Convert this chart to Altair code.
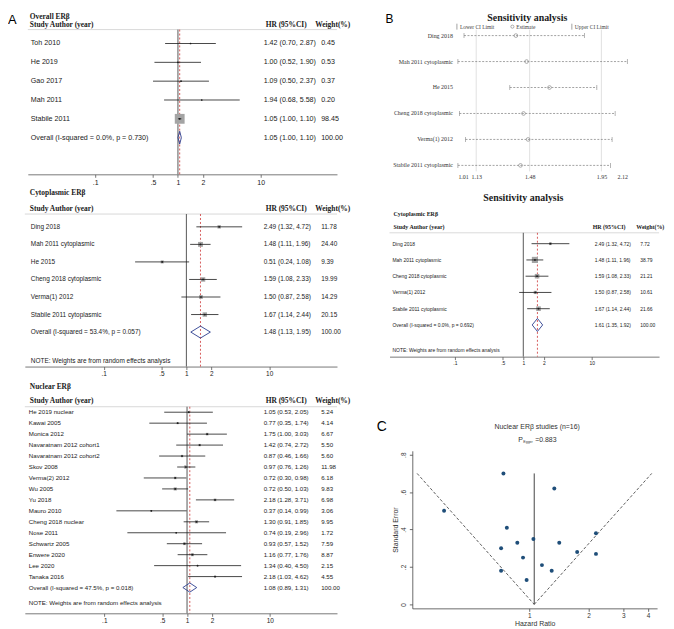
import altair as alt
import pandas as pd

SANS = "Liberation Sans"
SERIF = "Liberation Serif"
INK = "#1a1a1a"
GRID = "#c8c8c8"
NAVY = "#2b3d8f"
RED = "#cc3333"
DOT = "#1f4e79"

# ---------------- data ----------------
ov_names = ["Toh 2010", "He 2019", "Gao 2017", "Mah 2011", "Stabile 2011"]
ov_hr = [1.42, 1.00, 1.09, 1.94, 1.05]
ov_lo = [0.70, 0.52, 0.50, 0.68, 1.00]
ov_hi = [2.87, 1.90, 2.37, 5.58, 1.10]
ov_w = [0.45, 0.53, 0.37, 0.20, 98.45]
ov_pool = [1.05, 1.00, 1.10]
ov_label = "Overall  (I-squared = 0.0%, p = 0.730)"

cy_names = ["Ding 2018", "Mah 2011 cytoplasmic", "He 2015", "Cheng 2018 cytoplasmic",
            "Verma(1) 2012", "Stabile 2011 cytoplasmic"]
cy_hr = [2.49, 1.48, 0.51, 1.59, 1.50, 1.67]
cy_lo = [1.32, 1.11, 0.24, 1.08, 0.87, 1.14]
cy_hi = [4.72, 1.96, 1.08, 2.33, 2.58, 2.44]
cy_w = [11.78, 24.40, 9.39, 19.99, 14.29, 20.15]
cy_pool = [1.48, 1.13, 1.95]
cy_label = "Overall  (I-squared = 53.4%, p = 0.057)"

nu_names = ["He 2019 nuclear", "Kawai 2005", "Monica 2012", "Navaratnam 2012 cohort1",
            "Navaratnam 2012 cohort2", "Skov 2008", "Verma(2) 2012", "Wu 2005", "Yu 2018",
            "Mauro 2010", "Cheng 2018 nuclear", "Nose 2011", "Schwartz  2005", "Enwere 2020",
            "Lee 2020", "Tanaka 2016"]
nu_hr = [1.05, 0.77, 1.75, 1.42, 0.87, 0.97, 0.72, 0.72, 2.18, 0.37, 1.30, 0.74, 0.93, 1.16, 1.34, 2.18]
nu_lo = [0.53, 0.35, 1.00, 0.74, 0.46, 0.76, 0.30, 0.50, 1.28, 0.14, 0.91, 0.19, 0.57, 0.77, 0.40, 1.03]
nu_hi = [2.05, 1.74, 3.03, 2.72, 1.66, 1.26, 0.98, 1.03, 3.71, 0.99, 1.85, 2.96, 1.52, 1.76, 4.50, 4.62]
nu_w = [5.24, 4.14, 6.67, 5.50, 5.60, 11.98, 6.18, 9.83, 6.98, 3.06, 9.95, 1.72, 7.59, 8.87, 2.15, 4.55]
nu_pool = [1.08, 0.89, 1.31]
nu_label = "Overall  (I-squared = 47.5%, p = 0.018)"

sv_names = ["Ding 2018", "Mah 2011 cytoplasmic", "Cheng 2018 cytoplasmic",
            "Verma(1) 2012", "Stabile 2011 cytoplasmic"]
sv_hr = [2.49, 1.48, 1.59, 1.50, 1.67]
sv_lo = [1.32, 1.11, 1.08, 0.87, 1.14]
sv_hi = [4.72, 1.96, 2.33, 2.58, 2.44]
sv_w = [7.72, 38.79, 21.21, 10.61, 21.66]
sv_pool = [1.61, 1.35, 1.92]
sv_label = "Overall  (I-squared = 0.0%, p = 0.692)"

# leave-one-out sensitivity (omitted study)
lo_names = ["Ding 2018", "Mah 2011 cytoplasmic", "He 2015", "Cheng 2018 cytoplasmic",
            "Verma(1) 2012", "Stabile 2011 cytoplasmic"]
lo_est = [1.39, 1.46, 1.61, 1.44, 1.47, 1.42]
lo_low = [1.05, 1.01, 1.35, 1.02, 1.06, 1.01]
lo_upp = [1.84, 2.12, 1.92, 2.04, 2.02, 2.01]
lo_ticks = [1.01, 1.13, 1.48, 1.95, 2.12]
lo_grid = [1.13, 1.48, 1.95]

# funnel plot (nuclear studies)
fn_se = [0.35, 0.41, 0.28, 0.33, 0.33, 0.13, 0.30, 0.18, 0.27, 0.50, 0.18, 0.70, 0.25, 0.21, 0.62, 0.38]
fn_center = 1.06
fn_left = 0.27
fn_right = 4.18
fn_top = 0.70

TICKS = [0.1, 0.5, 1, 2, 10]


def forest(p):
    n = len(p["names"])
    xs = alt.Scale(type="log", domain=p["xdom"], range=p["xrng"], nice=False)
    ys = alt.Scale(domain=p["ydom"], range=p["yrng"], nice=False, zero=False)
    xaxis = alt.Axis(values=TICKS, title=None, grid=False,
                     labelExpr="datum.value < 1 ? replace(format(datum.value, '.1f'), '0.', '.') : format(datum.value, 'd')",
                     domainColor="#555", tickColor="#555", domainWidth=0.8, tickWidth=0.8,
                     tickSize=3, labelPadding=1, labelFont=SANS, labelFontSize=p["tick_fs"],
                     labelColor=INK, offset=p.get("axis_off", 0))
    bottom = p["height"] + p.get("axis_off", 0)

    def X(f):
        return alt.X(f, scale=xs, axis=xaxis)

    def Y(f):
        return alt.Y(f, scale=ys, axis=None)

    rows = pd.DataFrame({"r": list(range(1, n + 1)), "hr": p["hr"], "lo": p["lo"],
                         "hi": p["hi"], "w": p["w"]})
    est, plo, phi = p["pool"]
    trows = pd.DataFrame({
        "r": list(range(1, n + 2)),
        "name": p["names"] + [p["label"]],
        "hrt": [f"{a:.2f} ({b:.2f}, {c:.2f})" for a, b, c in zip(p["hr"] + [est], p["lo"] + [plo], p["hi"] + [phi])],
        "wt": [f"{w:.2f}" for w in p["w"]] + ["100.00"],
    })
    R = n + 1
    h = p["dh"]
    dia = pd.DataFrame({"o": [0, 1, 2, 3, 4], "x": [plo, est, phi, est, plo],
                        "y": [R, R - h, R, R + h, R]})

    layers = []
    layers.append(alt.Chart(pd.DataFrame({"r": [p["hline"]]})).mark_rule(color=GRID, strokeWidth=0.7)
                  .encode(y=Y("r:Q"), x=alt.value(p["xrng"][0]), x2=alt.value(p["xrng"][1])))
    layers.append(alt.Chart(pd.DataFrame({"x": [1.0], "r": [p["hline"]]})).mark_rule(color="#444", strokeWidth=0.9)
                  .encode(x=X("x:Q"), y=Y("r:Q"), y2=alt.value(bottom)))
    layers.append(alt.Chart(pd.DataFrame({"x": [est], "r": [p["hline"]]}))
                  .mark_rule(color=RED, strokeWidth=0.8, strokeDash=[2, 2])
                  .encode(x=X("x:Q"), y=Y("r:Q"), y2=alt.value(bottom)))
    layers.append(alt.Chart(rows).mark_square(color="#a4a4a4", opacity=1)
                  .encode(x=X("hr:Q"), y=Y("r:Q"), size=alt.Size("w:Q", scale=None)))
    layers.append(alt.Chart(rows).mark_rule(color=INK, strokeWidth=0.8)
                  .encode(x=X("lo:Q"), x2="hi:Q", y=Y("r:Q")))
    layers.append(alt.Chart(rows).mark_circle(color=INK, size=3, opacity=1)
                  .encode(x=X("hr:Q"), y=Y("r:Q")))
    layers.append(alt.Chart(dia).mark_line(color=NAVY, strokeWidth=0.9)
                  .encode(x=X("x:Q"), y=Y("y:Q"), order="o:Q"))
    for col, xp in (("name", p["name_x"]), ("hrt", p["hr_x"]), ("wt", p["w_x"])):
        layers.append(alt.Chart(trows).mark_text(align="left", baseline="middle", font=SANS,
                                                 fontSize=p["fs"], color=INK)
                      .encode(x=alt.value(xp), y=Y("r:Q"), text=f"{col}:N"))
    head = pd.DataFrame({"r": [0, 0, 0, p["title_r"]],
                         "t": ["Study Author (year)", "HR (95%CI)", "Weight(%)", p["title"]],
                         "k": ["a", "b", "c", "d"]})
    for k, xp in (("a", p["title_x"]), ("b", p["hhr_x"]), ("c", p["hw_x"]), ("d", p["title_x"])):
        layers.append(alt.Chart(head[head.k == k]).mark_text(align="left", baseline="middle", font=SERIF,
                                                              fontSize=p["hfs"], fontWeight="bold", color=INK)
                      .encode(x=alt.value(xp), y=Y("r:Q"), text="t:N"))
    if p.get("note_r") is not None:
        layers.append(alt.Chart(pd.DataFrame({"r": [p["note_r"]],
                                              "t": ["NOTE: Weights are from random effects analysis"]}))
                      .mark_text(align="left", baseline="middle", font=SANS, fontSize=p["fs"], color=INK)
                      .encode(x=alt.value(p["name_x"]), y=Y("r:Q"), text="t:N"))
    for ex in p.get("extras", []):
        layers.append(ex)
    return alt.layer(*layers).properties(width=p["width"], height=p["height"])


def letter(t, x, y, fs=12):
    return alt.Chart(pd.DataFrame({"t": [t]})).mark_text(
        align="left", baseline="top", font=SANS, fontSize=fs, color="#000"
    ).encode(x=alt.value(x), y=alt.value(y), text="t:N")


H1, H2, H3 = 165, 194, 249
W = 332

A1 = forest(dict(names=ov_names, hr=ov_hr, lo=ov_lo, hi=ov_hi, w=ov_w, pool=ov_pool, label=ov_label,
                 title="Overall ERβ", width=W, height=H1, xdom=[0.01534, 83.6], xrng=[20, 332],
                 ydom=[0, 6], yrng=[14, 128], hline=0.26, title_r=-0.43, note_r=None, dh=0.34,
                 name_x=23, hr_x=258, w_x=316, hhr_x=260, hw_x=310, title_x=22,
                 fs=7.2, hfs=7.5, tick_fs=7, extras=[letter("A", 0, 3, 13)]))

A2 = forest(dict(names=cy_names, hr=cy_hr, lo=cy_lo, hi=cy_hi, w=cy_w, pool=cy_pool, label=cy_label,
                 title="Cytoplasmic ERβ", width=W, height=H2, xdom=[0.01116, 66.1], xrng=[17, 332],
                 ydom=[0, 7], yrng=[35.3, 159.2], hline=0.27, title_r=-0.92, note_r=8.63, dh=0.34,
                 name_x=23, hr_x=258, w_x=316, hhr_x=260, hw_x=310, title_x=22,
                 fs=6.5, hfs=7.5, tick_fs=6.5))

A3 = forest(dict(names=nu_names, hr=nu_hr, lo=nu_lo, hi=nu_hi, w=nu_w, pool=nu_pool, label=nu_label,
                 title="Nuclear ERβ", width=W, height=H3, xdom=[0.01096, 64.9], xrng=[17, 332],
                 ydom=[0, 17], yrng=[35, 223], hline=0.5, title_r=-1.26, note_r=18.4, dh=0.42,
                 name_x=21, hr_x=258, w_x=316, hhr_x=260, hw_x=310, title_x=22,
                 fs=6.2, hfs=7.5, tick_fs=6.5))

sens_title2 = alt.Chart(pd.DataFrame({"t": ["Sensitivity analysis"]})).mark_text(
    align="center", baseline="middle", font=SERIF, fontSize=10, fontWeight="bold", color=INK
).encode(x=alt.value(188), y=alt.value(24), text="t:N")

B2 = forest(dict(names=sv_names, hr=sv_hr, lo=sv_lo, hi=sv_hi, w=sv_w, pool=sv_pool, label=sv_label,
                 title="Cytoplasmic ERβ", width=W, height=H2, xdom=[0.01105, 96.8], xrng=[53, 325],
                 ydom=[0, 6], yrng=[53.6, 152], hline=0.33, title_r=-0.83, note_r=7.55, dh=0.4,
                 name_x=56, hr_x=260, w_x=306, hhr_x=258, hw_x=302, title_x=57,
                 fs=5, hfs=6, tick_fs=5, axis_off=-10, extras=[sens_title2]))


# ---------------- B1: leave-one-out ----------------
def sens_top():
    xs = alt.Scale(domain=[1.01, 2.12], range=[122, 293], nice=False, zero=False)
    ys = alt.Scale(domain=[0, 5], range=[25, 156], nice=False, zero=False)
    xaxis = alt.Axis(values=lo_ticks, format=".2f", title=None, grid=False, domain=False, ticks=False,
                     labelFont=SERIF, labelFontSize=6, labelColor="#333", labelPadding=1, offset=-2)

    def X(f):
        return alt.X(f, scale=xs, axis=xaxis)

    def Y(f):
        return alt.Y(f, scale=ys, axis=None)

    df = pd.DataFrame({"r": list(range(len(lo_names))), "name": lo_names, "est": lo_est,
                       "lo": lo_low, "hi": lo_upp})
    gray = "#7a7a7a"
    layers = [
        alt.Chart(pd.DataFrame({"g": lo_grid})).mark_rule(color="#d4d4d4", strokeWidth=0.7)
        .encode(x=X("g:Q"), y=alt.value(19), y2=alt.value(162)),
        alt.Chart(df).mark_rule(color=gray, strokeWidth=0.7, strokeDash=[2, 1.5])
        .encode(x=X("lo:Q"), x2="hi:Q", y=Y("r:Q")),
        alt.Chart(df).mark_tick(orient="vertical", size=5, thickness=0.8, color=gray)
        .encode(x=X("lo:Q"), y=Y("r:Q")),
        alt.Chart(df).mark_tick(orient="vertical", size=5, thickness=0.8, color=gray)
        .encode(x=X("hi:Q"), y=Y("r:Q")),
        alt.Chart(df).mark_point(shape="circle", filled=False, color="#8a8a8a", size=14, strokeWidth=0.7,
                                 opacity=1)
        .encode(x=X("est:Q"), y=Y("r:Q")),
        alt.Chart(df).mark_text(align="right", baseline="middle", font=SERIF, fontSize=6, color="#333")
        .encode(x=alt.value(117), y=Y("r:Q"), text="name:N"),
        alt.Chart(pd.DataFrame({"t": ["Sensitivity analysis"]})).mark_text(
            align="center", baseline="middle", font=SERIF, fontSize=10, fontWeight="bold", color=INK)
        .encode(x=alt.value(192), y=alt.value(7.5), text="t:N"),
        letter("B", 49, 3, 12),
    ]
    leg = pd.DataFrame({"t": ["Lower CI Limit", "Estimate", "Upper CI Limit"], "k": [0, 1, 2]})
    for k, xp in ((0, 124), (1, 181), (2, 240)):
        layers.append(alt.Chart(leg[leg.k == k]).mark_text(align="left", baseline="middle", font=SERIF,
                                                            fontSize=5.5, color="#444")
                      .encode(x=alt.value(xp), y=alt.value(16), text="t:N"))
    for xp in (121, 237):
        layers.append(alt.Chart(pd.DataFrame({"a": [0]})).mark_rule(color=gray, strokeWidth=0.7)
                      .encode(x=alt.value(xp), y=alt.value(13), y2=alt.value(19)))
    layers.append(alt.Chart(pd.DataFrame({"a": [0]})).mark_point(shape="circle", filled=False, color="#8a8a8a",
                                                                 size=10, strokeWidth=0.7, opacity=1)
                  .encode(x=alt.value(177), y=alt.value(16)))
    return alt.layer(*layers).properties(width=W, height=H1)


B1 = sens_top()


# ---------------- C: funnel ----------------
def funnel():
    xs = alt.Scale(type="log", domain=[0.2553, 4.45], range=[76, 323], nice=False)
    ys = alt.Scale(domain=[-0.0212, 0.821], range=[244, 85], nice=False, zero=False)
    common = dict(grid=False, domainColor="#444", tickColor="#444", domainWidth=0.8, tickWidth=0.8,
                  tickSize=3, labelFont=SANS, labelFontSize=6.5, labelColor="#333",
                  titleFont=SANS, titleFontSize=7, titleFontWeight="normal", titleColor="#333")
    xaxis = alt.Axis(values=[1, 2, 3, 4], labelExpr="format(datum.value, 'd')", title="Hazard Ratio",
                     labelPadding=1, titlePadding=1, offset=-5, **common)
    yaxis = alt.Axis(values=[0, 0.2, 0.4, 0.6, 0.8],
                     labelExpr="datum.value == 0 ? '0' : replace(format(datum.value, '.1f'), '0.', '.')",
                     labelAngle=270, labelAlign="center", labelBaseline="bottom", labelPadding=3,
                     offset=-76, title="Standard Error", titlePadding=2, **common)

    def X(f):
        return alt.X(f, scale=xs, axis=xaxis)

    def Y(f):
        return alt.Y(f, scale=ys, axis=yaxis)

    pts = pd.DataFrame({"hr": nu_hr, "se": fn_se})
    lines = pd.DataFrame({"side": ["L", "L", "R", "R"], "o": [0, 1, 0, 1],
                          "x": [fn_left, fn_center, fn_center, fn_right],
                          "se": [fn_top, 0.0, 0.0, fn_top]})
    layers = [
        alt.Chart(lines).mark_line(color="#333", strokeWidth=0.8, strokeDash=[3, 2])
        .encode(x=X("x:Q"), y=Y("se:Q"), detail="side:N", order="o:Q"),
        alt.Chart(pd.DataFrame({"x": [fn_center], "a": [0.0], "b": [fn_top]}))
        .mark_rule(color="#444", strokeWidth=1)
        .encode(x=X("x:Q"), y=Y("a:Q"), y2="b:Q"),
        alt.Chart(pts).mark_circle(color=DOT, size=16, opacity=1)
        .encode(x=X("hr:Q"), y=Y("se:Q")),
        alt.Chart(pd.DataFrame({"t": ["Nuclear ERβ studies (n=16)"]})).mark_text(
            align="center", baseline="middle", font=SANS, fontSize=7, color="#333")
        .encode(x=alt.value(202), y=alt.value(61), text="t:N"),
        alt.Chart(pd.DataFrame({"t": ["P"]})).mark_text(
            align="left", baseline="middle", font=SANS, fontSize=7, color="#333")
        .encode(x=alt.value(183), y=alt.value(74), text="t:N"),
        alt.Chart(pd.DataFrame({"t": ["Egger"]})).mark_text(
            align="left", baseline="middle", font=SANS, fontSize=3.6, color="#333")
        .encode(x=alt.value(188), y=alt.value(76.5), text="t:N"),
        alt.Chart(pd.DataFrame({"t": ["=0.883"]})).mark_text(
            align="left", baseline="middle", font=SANS, fontSize=7, color="#333")
        .encode(x=alt.value(200), y=alt.value(74), text="t:N"),
        letter("C", 40, 54, 14),
    ]
    return alt.layer(*layers).properties(width=W, height=H3)


C = funnel()

chart = alt.concat(A1, B1, A2, B2, A3, C, columns=2, spacing=0, bounds="flush", align="each").properties(
    padding={"left": 0, "top": 0, "right": 0, "bottom": 0}
).configure_view(stroke=None)

chart.save("out.html", embed_options={"renderer": "svg", "actions": False})
